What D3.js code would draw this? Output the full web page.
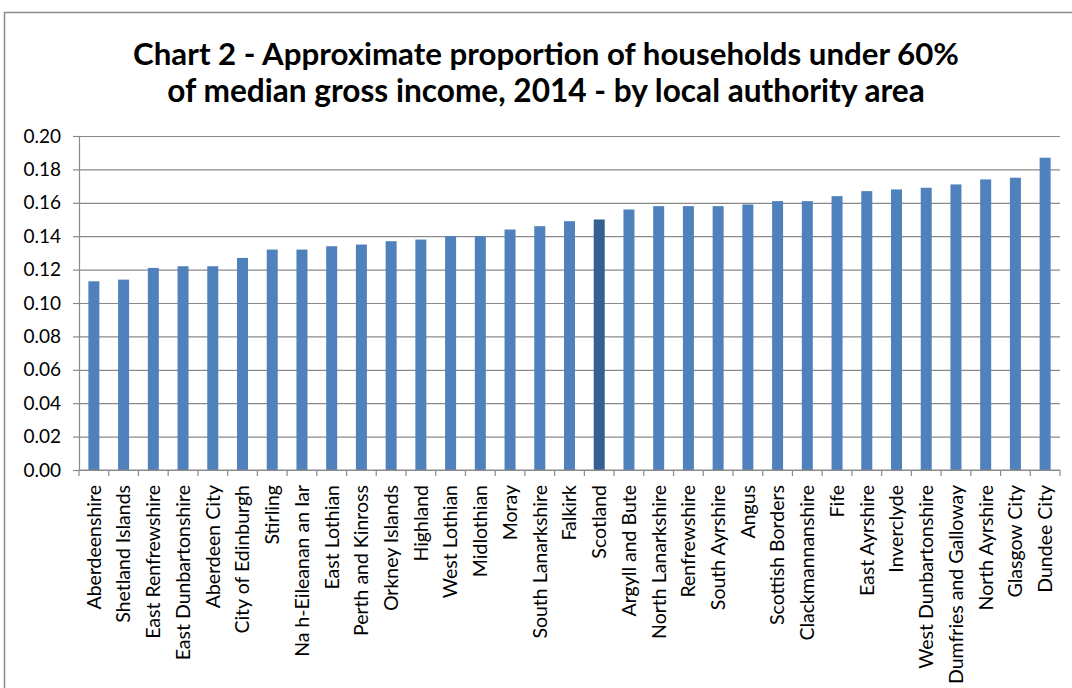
<!DOCTYPE html>
<html>
<head>
<meta charset="utf-8">
<script src="https://cdn.jsdelivr.net/npm/d3@7"></script>
<style>
  html, body { margin: 0; padding: 0; background: #fff; }
  svg { display: block; }
</style>
</head>
<body>
<svg id="chart" width="1072" height="688"></svg>
<script>
"use strict";

/* ── Data ─────────────────────────────────────────────── */
const areas = [
  "Aberdeenshire", "Shetland Islands", "East Renfrewshire", "East Dunbartonshire",
  "Aberdeen City", "City of Edinburgh", "Stirling", "Na h-Eileanan an Iar",
  "East Lothian", "Perth and Kinross", "Orkney Islands", "Highland",
  "West Lothian", "Midlothian", "Moray", "South Lanarkshire", "Falkirk",
  "Scotland", "Argyll and Bute", "North Lanarkshire", "Renfrewshire",
  "South Ayrshire", "Angus", "Scottish Borders", "Clackmannanshire", "Fife",
  "East Ayrshire", "Inverclyde", "West Dunbartonshire", "Dumfries and Galloway",
  "North Ayrshire", "Glasgow City", "Dundee City"
];
const proportions = [
  0.113, 0.114, 0.121, 0.122, 0.122, 0.127, 0.132, 0.132,
  0.134, 0.135, 0.137, 0.138, 0.140, 0.140, 0.144, 0.146, 0.149,
  0.150, 0.156, 0.158, 0.158, 0.158, 0.159, 0.161, 0.161, 0.164,
  0.167, 0.168, 0.169, 0.171, 0.174, 0.175, 0.187
];
const highlight = "Scotland";
const yTicks = [0, 0.02, 0.04, 0.06, 0.08, 0.10, 0.12, 0.14, 0.16, 0.18, 0.20];
const titleLines = [
  "Chart 2 - Approximate proportion of households under 60%",
  "of median gross income, 2014 - by local authority area"
];

/* ── Layout ───────────────────────────────────────────── */
const W = 1072, H = 688;
const PLOT = { left: 79, right: 1060, top: 136, bottom: 470 };
const FONT = "Lato, 'Open Sans', sans-serif";
const GRID = "#8a8a8a";

const svg = d3.select("#chart");

/* Chart frame */
svg.append("path")
  .attr("d", `M4.5,${H} V12.5 H${W}`)
  .attr("fill", "none")
  .attr("stroke", "#8a8a8a")
  .attr("stroke-width", 1.5);

/* Title, sized to match the reference width */
const titleWidths = [826, 758];
const titleY = [65, 102];
titleLines.forEach((line, i) => {
  const t = svg.append("text")
    .attr("x", 546)
    .attr("y", titleY[i])
    .attr("text-anchor", "middle")
    .attr("font-family", FONT)
    .attr("font-weight", 700)
    .attr("font-size", 28)
    .attr("fill", "#000")
    .text(line);
  const w = t.node().getComputedTextLength();
  t.attr("font-size", 28 * titleWidths[i] / w);
});

/* Scales */
const x = d3.scaleBand()
  .domain(areas)
  .range([PLOT.left, PLOT.right])
  .paddingInner(0.63)
  .paddingOuter(0.315);

const y = d3.scaleLinear()
  .domain([0, 0.2])
  .range([PLOT.bottom, PLOT.top]);

/* Gridlines */
svg.append("g")
  .attr("transform", `translate(${PLOT.left},0)`)
  .call(d3.axisLeft(y).tickValues(yTicks).tickSize(-(PLOT.right - PLOT.left)).tickFormat(""))
  .call((g) => {
    g.select(".domain").remove();
    g.selectAll("line").attr("stroke", GRID).attr("stroke-width", 1.2);
  });

/* Y axis */
svg.append("g")
  .attr("transform", `translate(${PLOT.left},0)`)
  .call(d3.axisLeft(y).tickValues(yTicks).tickSize(6).tickPadding(12).tickFormat(d3.format(".2f")))
  .call((g) => {
    g.select(".domain").attr("stroke", GRID).attr("stroke-width", 1.2);
    g.selectAll("line").attr("stroke", GRID).attr("stroke-width", 1.2);
    g.selectAll("text")
      .attr("font-family", FONT)
      .attr("font-size", 19)
      .attr("fill", "#000");
  });

/* Bars */
svg.append("g")
  .selectAll("rect")
  .data(areas)
  .join("rect")
  .attr("x", (d) => x(d))
  .attr("y", (d, i) => y(proportions[i]))
  .attr("width", x.bandwidth())
  .attr("height", (d, i) => y(0) - y(proportions[i]))
  .attr("fill", (d) => d === highlight ? "#376092" : "#4F81BD");

/* X axis: baseline + tick marks between categories */
const step = x.step();
const boundaries = d3.range(areas.length + 1).map((i) => PLOT.left + i * step);
const xAxis = svg.append("g");
xAxis.append("line")
  .attr("x1", PLOT.left).attr("x2", PLOT.right)
  .attr("y1", PLOT.bottom).attr("y2", PLOT.bottom)
  .attr("stroke", GRID).attr("stroke-width", 1.2);
xAxis.selectAll("line.tick")
  .data(boundaries)
  .join("line")
  .attr("class", "tick")
  .attr("x1", (d) => d).attr("x2", (d) => d)
  .attr("y1", PLOT.bottom).attr("y2", PLOT.bottom + 6)
  .attr("stroke", GRID).attr("stroke-width", 1.2);

/* Category labels, rotated */
xAxis.selectAll("text")
  .data(areas)
  .join("text")
  .attr("transform", (d) => `translate(${x(d) + x.bandwidth() / 2},${PLOT.bottom + 15}) rotate(-90)`)
  .attr("text-anchor", "end")
  .attr("dy", "0.35em")
  .attr("font-family", FONT)
  .attr("font-size", 19.5)
  .attr("fill", "#000")
  .text((d) => d);
</script>
</body>
</html>
